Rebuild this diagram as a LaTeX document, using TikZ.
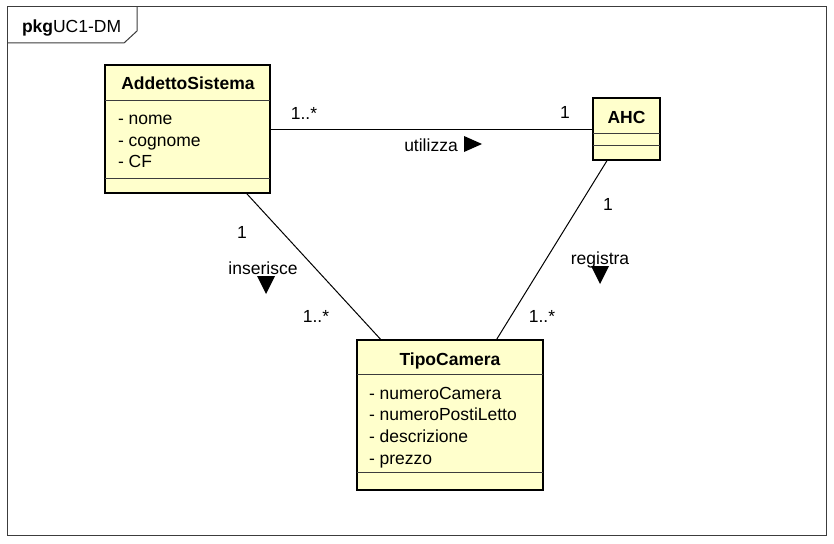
\documentclass[tikz,border=0pt]{standalone}
\usepackage{fontspec}
\setmainfont{Liberation Sans}
\definecolor{clsfill}{RGB}{255,255,204}
\definecolor{framec}{RGB}{60,60,60}
\begin{document}
\begin{tikzpicture}[x=1pt,y=-1pt,
  every node/.style={inner sep=0pt,outer sep=0pt,font=\fontsize{17.5}{20}\selectfont},
  txt/.style={text height=12.5pt,text depth=0pt},
  cls/.style={draw=black,line width=2pt,fill=clsfill,rectangle},
  sep/.style={draw=framec,line width=1pt},
  assoc/.style={draw=black,line width=1pt},
  lbl/.style={txt,anchor=center},
  attr/.style={txt,anchor=west},
  tri/.style={fill=black,draw=none}]
\useasboundingbox (0,0) rectangle (834,543);
\fill[white] (0,0) rectangle (834,543);
% package frame
\draw[framec,line width=1pt] (7,7) rectangle (826,535);
\draw[framec,line width=1pt] (7,43) -- (124,43) -- (137,31) -- (137,7);
\node[attr] (pkg) at (22,26) {\textbf{pkg}UC1-DM};
% classes
\node[cls,minimum width=165pt,minimum height=128pt] (as) at (187.5,129) {};
\node[cls,minimum width=67pt,minimum height=62pt] (ahc) at (626.5,129) {};
\node[cls,minimum width=186pt,minimum height=150pt] (tc) at (450,415) {};
% associations
\draw[assoc] (as) -- (ahc);
\draw[assoc] (as) -- (tc);
\draw[assoc] (ahc) -- (tc);
% AddettoSistema compartments
\draw[sep] (as.west |- 0,100) -- (as.east |- 0,100);
\draw[sep] (as.west |- 0,178) -- (as.east |- 0,178);
\node[lbl] (asn) at (188,83) {\textbf{AddettoSistema}};
\node[attr] (as1) at (118,118) {- nome};
\node[attr] (as2) at (118,140) {- cognome};
\node[attr] (as3) at (118,161) {- CF};
% AHC compartments
\draw[sep] (ahc.west |- 0,133) -- (ahc.east |- 0,133);
\draw[sep] (ahc.west |- 0,145) -- (ahc.east |- 0,145);
\node[lbl] (ahcn) at (626.5,117) {\textbf{AHC}};
% TipoCamera compartments
\draw[sep] (tc.west |- 0,374) -- (tc.east |- 0,374);
\draw[sep] (tc.west |- 0,472) -- (tc.east |- 0,472);
\node[lbl] (tcn) at (450,359) {\textbf{TipoCamera}};
\node[attr] (tc1) at (369,393) {- numeroCamera};
\node[attr] (tc2) at (369,414) {- numeroPostiLetto};
\node[attr] (tc3) at (369,436) {- descrizione};
\node[attr] (tc4) at (369,458) {- prezzo};
% association labels
\node[lbl] (m1) at (304,113) {1..*};
\node[lbl] (m2) at (565,112) {1};
\node[lbl] (ut) at (431,145) {utilizza};
\fill[tri] (464,136) -- (482,144) -- (464,152) -- cycle;
\node[lbl] (m3) at (242,232) {1};
\node[lbl] (ins) at (263,268) {inserisce};
\fill[tri] (257,276) -- (275,276) -- (266,294) -- cycle;
\node[lbl] (m4) at (316,316) {1..*};
\node[lbl] (m5) at (608,204) {1};
\node[lbl] (reg) at (600,258) {registra};
\fill[tri] (591,266) -- (609,266) -- (600,284) -- cycle;
\node[lbl] (m6) at (542,316) {1..*};
\end{tikzpicture}
\end{document}
